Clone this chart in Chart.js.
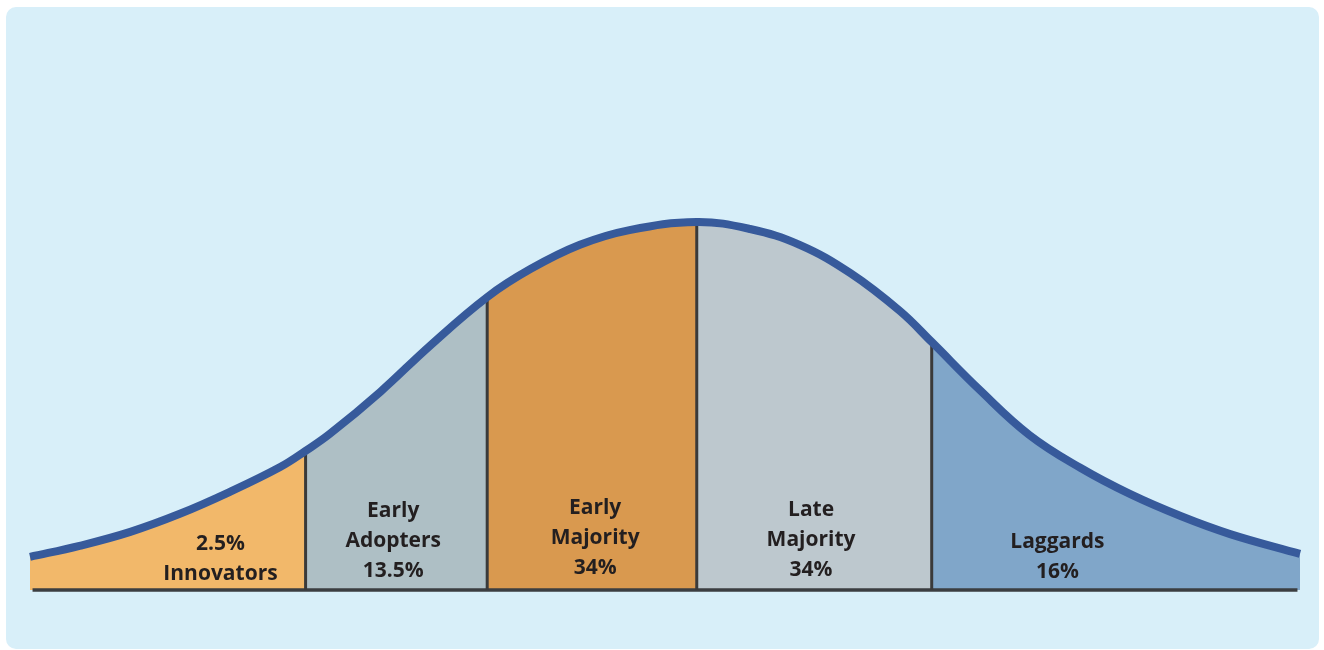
<!DOCTYPE html>
<html>
<head>
<meta charset="utf-8">
<title>Diffusion of Innovations</title>
<script src="https://cdn.jsdelivr.net/npm/chart.js@4.4.1/dist/chart.umd.min.js"></script>
<style>
  body { margin: 0; background: #ffffff; }
  .panel {
    position: absolute; left: 6px; top: 7px; width: 1313px; height: 642px;
    background: #d8eff9; border-radius: 10px;
  }
  #chart { position: absolute; left: 0; top: 0; }
</style>
</head>
<body>
<div class="panel"></div>
<canvas id="chart" width="1324" height="650"></canvas>
<script>
// adopter groups and their share of the population
const categories = ['Innovators', 'Early Adopters', 'Early Majority', 'Late Majority', 'Laggards'];
const shares = [2.5, 13.5, 34, 34, 16];

// where each group starts / ends along the time axis (0 - 100)
const boundaries = [0, 21.7, 36.0, 52.5, 71.0, 100];

// bell curve (x: time, y: relative number of adopters, peak = 100)
const curveX = [0, 3.9, 7.9, 11.8, 15.7, 19.7, 21.7, 23.6, 27.6, 31.5, 36.0, 39.4, 43.3, 47.2,
                52.5, 56.7, 60.6, 64.6, 68.5, 71.0, 74.8, 78.7, 82.7, 86.6, 90.6, 94.5, 100];
const curveY = [9.0, 12.0, 15.8, 20.7, 26.6, 33.4, 37.8, 42.4, 53.9, 66.4, 79.6, 87.2, 93.8, 97.8,
                100, 98.1, 93.8, 86.1, 75.8, 67.4, 54.3, 42.1, 33.2, 26.1, 20.1, 15.2, 9.8];

// text shown in each area
const labelLines = [
  ['2.5%', 'Innovators'],
  ['Early', 'Adopters', '13.5%'],
  ['Early', 'Majority', '34%'],
  ['Late', 'Majority', '34%'],
  ['Laggards', '16%']
];

const fillColors = ['#f2b86a', '#aebfc5', '#d9994f', '#bdc8ce', '#80a6c9'];
// label anchor: x centre (axis units) and pixel offset of last line above baseline
const labelPos = [
  { x: 15.0, bottom: 16 },
  { x: 28.6, bottom: 19 },
  { x: 44.5, bottom: 22 },
  { x: 61.5, bottom: 20 },
  { x: 80.9, bottom: 18 }
];

const curvePoints = curveX.map((x, i) => ({ x: x, y: curveY[i] }));
const heightAt = x => curveY[curveX.indexOf(x)];
const groupOf = x => {
  for (let i = 0; i < categories.length; i++) {
    if (x >= boundaries[i] && x < boundaries[i + 1]) return i;
  }
  return categories.length - 1;
};

const datasets = [];

// the curve itself, on top
datasets.push({
  label: 'Adopters',
  data: curvePoints,
  borderColor: '#375a9b',
  borderWidth: 8,
  borderCapStyle: 'butt',
  fill: false,
  pointRadius: 0,
  tension: 0.4,
  clip: false,
  order: 0
});

// dividers between groups
boundaries.slice(1, -1).forEach(b => {
  datasets.push({
    label: 'divider',
    data: [{ x: b, y: 0 }, { x: b, y: heightAt(b) }],
    borderColor: '#3a3a3a',
    borderWidth: 3,
    pointRadius: 0,
    fill: false,
    clip: false,
    order: 1
  });
});

// base line
datasets.push({
  label: 'base',
  data: [{ x: 0.2, y: 0 }, { x: 99.8, y: 0 }],
  borderColor: '#3b3e41',
  borderWidth: 3.5,
  pointRadius: 0,
  fill: false,
  clip: false,
  order: 1
});

// coloured areas under the curve, one colour per group
datasets.push({
  label: 'groups',
  data: curvePoints,
  backgroundColor: fillColors[0],
  borderWidth: 0,
  pointRadius: 0,
  tension: 0.4,
  fill: 'origin',
  segment: {
    backgroundColor: ctx => fillColors[groupOf(ctx.p0.parsed.x)]
  },
  order: 2
});

const areaLabels = {
  id: 'areaLabels',
  afterDatasetsDraw(chart) {
    const ctx = chart.ctx;
    const xs = chart.scales.x, ys = chart.scales.y;
    const base = ys.getPixelForValue(0);
    ctx.save();
    ctx.font = 'bold 21px "Open Sans", sans-serif';
    ctx.fillStyle = '#231f20';
    ctx.textAlign = 'center';
    ctx.textBaseline = 'middle';
    labelLines.forEach((lines, i) => {
      const cx = xs.getPixelForValue(labelPos[i].x);
      const last = base - labelPos[i].bottom;
      lines.forEach((t, j) => {
        ctx.fillText(t, cx, last - (lines.length - 1 - j) * 30);
      });
    });
    ctx.restore();
  }
};

new Chart(document.getElementById('chart'), {
  type: 'line',
  data: { datasets: datasets },
  options: {
    responsive: false,
    animation: false,
    layout: { padding: { left: 30, right: 24, top: 38, bottom: 60 } },
    scales: {
      x: { type: 'linear', min: 0, max: 100, display: false },
      y: { min: 0, max: 150, display: false }
    },
    plugins: {
      legend: { display: false },
      tooltip: { enabled: false }
    }
  },
  plugins: [areaLabels]
});
</script>
</body>
</html>
